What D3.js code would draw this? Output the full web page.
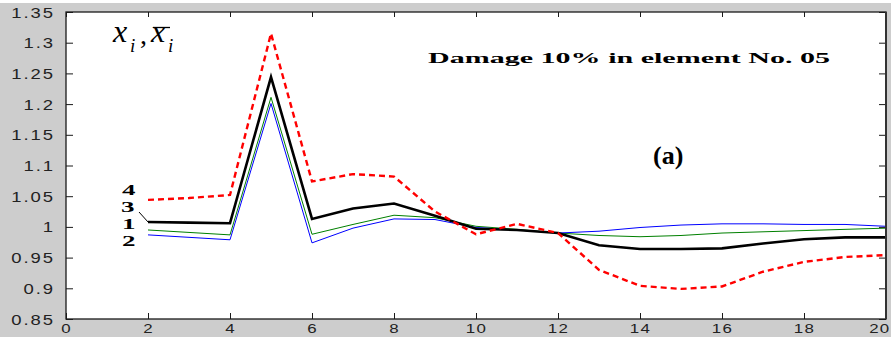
<!DOCTYPE html>
<html>
<head>
<meta charset="utf-8">
<script src="https://cdn.jsdelivr.net/npm/d3@7"></script>
<style>
  html, body { margin: 0; padding: 0; background: #ffffff; }
  svg { display: block; }
</style>
</head>
<body>
<div id="chart"></div>
<script>
// Element index along the structure
const elements = [2, 3, 4, 5, 6, 7, 8, 9, 10, 11, 12, 13, 14, 15, 16, 17, 18, 19, 20];

// Curve 1 (green)
const series1 = [0.995, 0.991, 0.987, 1.211, 0.988, 1.004, 1.019, 1.015, 1.001, 0.996,
                 0.990, 0.986, 0.984, 0.986, 0.990, 0.992, 0.994, 0.996, 0.998];
// Curve 2 (blue)
const series2 = [0.987, 0.983, 0.979, 1.201, 0.974, 0.998, 1.013, 1.012, 0.999, 0.995,
                 0.990, 0.993, 0.999, 1.003, 1.005, 1.005, 1.004, 1.004, 1.001];
// Curve 3 (black, thick)
const series3 = [1.008, 1.007, 1.006, 1.244, 1.013, 1.030, 1.038, 1.018, 0.997, 0.995,
                 0.990, 0.970, 0.964, 0.964, 0.965, 0.973, 0.980, 0.983, 0.983];
// Curve 4 (red, dashed)
const series4 = [1.044, 1.047, 1.052, 1.315, 1.074, 1.086, 1.082, 1.025, 0.988, 1.005,
                 0.990, 0.930, 0.904, 0.899, 0.903, 0.927, 0.943, 0.951, 0.954];

const xTicks = [0, 2, 4, 6, 8, 10, 12, 14, 16, 18, 20];
const yTicks = [0.85, 0.9, 0.95, 1, 1.05, 1.1, 1.15, 1.2, 1.25, 1.3, 1.35];
const yTickLabels = ["0.85", "0.9", "0.95", "1", "1.05", "1.1", "1.15", "1.2", "1.25", "1.3", "1.35"];

const curveLabels = ["4", "3", "1", "2"];
const titleText = "Damage 10% in element No. 05";
const panelText = "(a)";

const W = 891, H = 337;
const plot = { left: 66, right: 886, top: 12, bottom: 319 };

const svg = d3.select("#chart").append("svg")
  .attr("width", W).attr("height", H);

// figure background and white axes area
svg.append("rect").attr("x", 0).attr("y", 3).attr("width", W).attr("height", H - 3)
  .attr("fill", "#cdcdcd");
svg.append("rect").attr("x", plot.left).attr("y", plot.top)
  .attr("width", plot.right - plot.left).attr("height", plot.bottom - plot.top)
  .attr("fill", "#ffffff");

const x = d3.scaleLinear().domain([0, 20]).range([plot.left, plot.right]);
const y = d3.scaleLinear().domain([0.85, 1.35]).range([plot.bottom, plot.top]);

svg.append("clipPath").attr("id", "plotClip").append("rect")
  .attr("x", plot.left).attr("y", plot.top - 2)
  .attr("width", plot.right - plot.left).attr("height", plot.bottom - plot.top + 4);

const g = svg.append("g").attr("clip-path", "url(#plotClip)");

const line = d3.line().x((d, i) => x(elements[i])).y(d => y(d));

g.append("path").datum(series1).attr("d", line)
  .attr("fill", "none").attr("stroke", "#008000").attr("stroke-width", 1);
g.append("path").datum(series2).attr("d", line)
  .attr("fill", "none").attr("stroke", "#0000ff").attr("stroke-width", 1);
g.append("path").datum(series3).attr("d", line)
  .attr("fill", "none").attr("stroke", "#000000").attr("stroke-width", 2.6)
  .attr("stroke-linejoin", "miter");
g.append("path").datum(series4).attr("d", line)
  .attr("fill", "none").attr("stroke", "#ff0000").attr("stroke-width", 2.4)
  .attr("stroke-dasharray", "6,4");

// axes: ticks on all four sides pointing inward
const tickColor = "#1a1a1a";
function styleAxis(sel) {
  sel.select(".domain").remove();
  sel.selectAll(".tick line").attr("stroke", tickColor).attr("stroke-width", 1);
}

const axLeft = svg.append("g").attr("transform", `translate(${plot.left},0)`)
  .call(d3.axisLeft(y).tickValues(yTicks).tickSize(-7).tickPadding(0)
    .tickFormat((d, i) => yTickLabels[i]));
styleAxis(axLeft);
axLeft.selectAll(".tick text")
  .attr("font-family", "'Liberation Sans', Arial, sans-serif")
  .attr("font-size", 14).attr("fill", "#222")
  .attr("letter-spacing", 1.5)
  .attr("text-anchor", "end")
  .attr("x", -11 / 1.32)
  .attr("dy", "0.36em")
  .attr("transform", "scale(1.32,1)");

const axRight = svg.append("g").attr("transform", `translate(${plot.right},0)`)
  .call(d3.axisRight(y).tickValues(yTicks).tickSize(-7).tickFormat(""));
styleAxis(axRight);

const axBottom = svg.append("g").attr("transform", `translate(0,${plot.bottom})`)
  .call(d3.axisBottom(x).tickValues(xTicks).tickSize(-6).tickPadding(0)
    .tickFormat(d3.format("d")));
styleAxis(axBottom);
// horizontally stretched digits, centred under each tick;
// the last one is pulled in so it stays inside the figure edge
axBottom.selectAll(".tick text")
  .attr("font-family", "'Liberation Sans', Arial, sans-serif")
  .attr("font-size", 13).attr("fill", "#222")
  .attr("letter-spacing", 1)
  .attr("text-anchor", d => d === 20 ? "end" : "middle")
  .attr("x", d => d === 20 ? (W - 1 - x(20)) / 1.3 : 0)
  .attr("y", 14).attr("dy", 0)
  .attr("transform", "scale(1.3,1)");

const axTop = svg.append("g").attr("transform", `translate(0,${plot.top})`)
  .call(d3.axisTop(x).tickValues(xTicks).tickSize(-5).tickFormat(""));
styleAxis(axTop);

// frame
svg.append("rect").attr("x", plot.left).attr("y", plot.top)
  .attr("width", plot.right - plot.left).attr("height", plot.bottom - plot.top)
  .attr("fill", "none").attr("stroke", "#1a1a1a").attr("stroke-width", 1.3);
svg.append("line").attr("x1", plot.right).attr("x2", plot.right)
  .attr("y1", plot.top).attr("y2", plot.bottom)
  .attr("stroke", "#333").attr("stroke-width", 2);

// y label: x_i , x̄_i
const serif = "'Liberation Serif', 'Times New Roman', serif";
const lab = svg.append("g").attr("font-family", serif).attr("fill", "#000");
lab.append("text").attr("x", 113).attr("y", 42).attr("font-size", 32)
  .attr("font-style", "italic").text("x");
lab.append("text").attr("x", 130).attr("y", 52).attr("font-size", 19)
  .attr("font-style", "italic").text("i");
lab.append("text").attr("x", 140).attr("y", 44).attr("font-size", 28).text(",");
lab.append("text").attr("x", 151).attr("y", 42).attr("font-size", 32)
  .attr("font-style", "italic").text("x");
lab.append("line").attr("x1", 153).attr("x2", 170).attr("y1", 27.5).attr("y2", 27.5)
  .attr("stroke", "#000").attr("stroke-width", 1.3);
lab.append("text").attr("x", 168).attr("y", 52).attr("font-size", 19)
  .attr("font-style", "italic").text("i");

// title
svg.append("text").attr("x", 428).attr("y", 63)
  .attr("font-family", serif).attr("font-weight", "bold").attr("font-size", 15)
  .attr("textLength", 402).attr("lengthAdjust", "spacingAndGlyphs")
  .text(titleText);

// panel tag
svg.append("text").attr("x", 653).attr("y", 164)
  .attr("font-family", serif).attr("font-weight", "bold").attr("font-size", 26)
  .text(panelText);

// curve numbers, stacked beside the left ends of the curves
const labelPos = [
  { x: 122, y: 195 },
  { x: 121, y: 212 },
  { x: 122, y: 229 },
  { x: 122, y: 246 }
];
curveLabels.forEach((t, i) => {
  svg.append("text")
    .attr("transform", `translate(${labelPos[i].x},${labelPos[i].y}) scale(1.8,1)`)
    .attr("font-family", serif).attr("font-weight", "bold").attr("font-size", 15)
    .text(t);
});
// leader from label 3 to its curve
svg.append("line")
  .attr("x1", 139).attr("y1", 212)
  .attr("x2", x(elements[0])).attr("y2", y(series3[0]))
  .attr("stroke", "#000").attr("stroke-width", 1);
</script>
</body>
</html>
